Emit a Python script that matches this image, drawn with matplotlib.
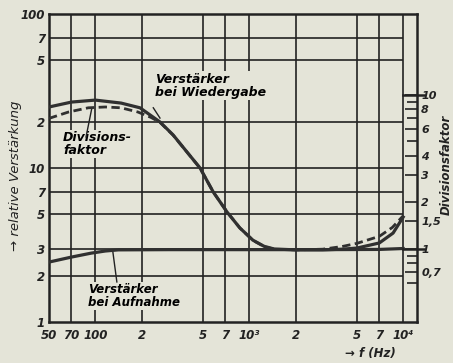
import numpy as np
import matplotlib.pyplot as plt
from matplotlib import font_manager
from matplotlib.ticker import NullLocator, FixedLocator

# --- data ---
# Verstärker bei Wiedergabe (relative Verstärkung, left axis)
wied_f = [50, 70, 100, 147, 195, 263, 320, 394, 479, 583, 717, 869, 1056,
          1250, 1450, 2000, 3000, 4000, 5000, 7000, 8600, 10000]
wied_v = [24.9, 26.8, 27.6, 26.4, 24.6, 19.9, 16.4, 12.7, 10.0, 7.0, 5.18,
          4.08, 3.4, 3.1, 2.98, 2.94, 2.94, 2.97, 3.02, 3.26, 3.78, 4.8]

# Divisionsfaktor (right axis)
div_f = [50, 67, 90, 116, 147, 189, 230, 263, 320, 394, 479, 583, 717, 869,
         1056, 1250, 1450, 2000, 3000, 4000, 5000, 7000, 8500, 10000]
div_v = [7.0, 7.7, 8.2, 8.3, 8.2, 7.7, 7.1, 6.6, 5.45, 4.23, 3.33, 2.33,
         1.73, 1.36, 1.13, 1.03, 0.99, 0.98, 0.99, 1.03, 1.08, 1.2, 1.37, 1.63]

# Verstärker bei Aufnahme (left axis)
auf_f = [50, 70, 94, 116, 141, 300, 1000, 3000, 7000, 10000]
auf_v = [2.45, 2.64, 2.8, 2.89, 2.94, 2.95, 2.95, 2.95, 2.96, 3.0]

xticks = [50, 70, 100, 200, 500, 700, 1000, 2000, 5000, 7000, 10000]
xtick_labels = ["50", "70", "100", "2", "5", "7", "10³", "2", "5", "7", "10⁴"]
yticks = [1, 2, 3, 5, 7, 10, 20, 50, 70, 100]
ytick_labels = ["1", "2", "3", "5", "7", "10", "2", "5", "7", "100"]
rticks = [0.7, 1, 1.5, 2, 3, 4, 6, 8, 10]
rtick_labels = ["0,7", "1", "1,5", "2", "3", "4", "6", "8", "10"]
rminor = [0.6, 0.8, 0.9, 5, 7, 9]
vgrid = [70, 100, 200, 500, 700, 1000, 2000, 5000, 7000, 10000]
hgrid = [2, 3, 5, 7, 10, 20, 50, 70]

PAPER = "#e4e4d8"
INK = "#222222"

# prefer a narrow face if one is installed (the original lettering is condensed)
names = {f.name for f in font_manager.fontManager.ttflist}
narrow = [n for n in ("Liberation Sans Narrow", "DejaVu Sans Condensed") if n in names]
if narrow:
    FONT = [narrow[0], "DejaVu Sans"]
    SCALE = 1.15
else:
    FONT = ["DejaVu Sans"]
    SCALE = 1.0
tfont = dict(family=FONT, style="italic", weight="bold")


def fs(size):
    return size * SCALE


fig = plt.figure(figsize=(4.53, 3.63), dpi=100, facecolor=PAPER)
ax = fig.add_axes([49 / 453, 41 / 363, 368 / 453, 308 / 363], facecolor=PAPER)
ax.set_xscale("log")
ax.set_yscale("log")
ax.set_xlim(50, 12300)
ax.set_ylim(1, 100)

# grid
for x in vgrid:
    ax.axvline(x, color=INK, lw=1.2, zorder=1)
ax.hlines(hgrid, 50, 10000, color=INK, lw=1.2, zorder=1)
for s in ax.spines.values():
    s.set_linewidth(1.8)
    s.set_color(INK)

# curves
ax.plot(wied_f, wied_v, color="#303030", lw=2.3, zorder=4)
ax.plot(auf_f, auf_v, color="#303030", lw=2.3, zorder=4)

ax2 = ax.twinx()
ax2.set_yscale("log")
ax2.set_ylim(1 / 3, 100 / 3)
ax2.plot(div_f, div_v, color="#303030", lw=2.0, ls=(0, (3, 1.6)), zorder=5)

# ticks
ax.xaxis.set_major_locator(FixedLocator(xticks))
ax.xaxis.set_minor_locator(NullLocator())
ax.set_xticklabels(xtick_labels)
ax.yaxis.set_major_locator(FixedLocator(yticks))
ax.yaxis.set_minor_locator(NullLocator())
ax.set_yticklabels(ytick_labels)
ax.tick_params(axis="x", length=0, pad=5, colors=INK)
ax.tick_params(axis="y", length=0, pad=3, colors=INK)
for lab in ax.get_xticklabels() + ax.get_yticklabels():
    lab.set(fontsize=fs(8.5), **tfont)

ax2.yaxis.set_major_locator(FixedLocator(rticks))
ax2.yaxis.set_minor_locator(FixedLocator(rminor))
ax2.set_yticklabels(rtick_labels)
ax2.tick_params(which="major", direction="in", length=9, width=1.2, pad=3, colors=INK)
ax2.tick_params(which="minor", direction="in", length=7, width=1.2, colors=INK)
for lab in ax2.get_yticklabels():
    lab.set(fontsize=fs(8), **tfont)
for s in ax2.spines.values():
    s.set_visible(False)
for v in [1, 10]:
    ax2.plot([10000, 13600], [v, v], color=INK, lw=1.8, clip_on=False, zorder=6)

# annotations
box = dict(facecolor=PAPER, edgecolor="none", pad=1)
ax.text(245, 41.5, "Verstärker\nbei Wiedergabe", ha="left", va="top", fontsize=fs(9),
        linespacing=1.0, bbox=box, zorder=3, **tfont)
ax.plot([238, 263], [24.6, 21.1], color=INK, lw=1.0, zorder=3)
ax.text(61.7, 17.4, "Divisions-\nfaktor", ha="left", va="top", fontsize=fs(9),
        linespacing=1.0, bbox=box, zorder=3, **tfont)
ax.plot([87, 95], [15.9, 24.6], color=INK, lw=1.0, zorder=3)
ax.text(89.6, 1.79, "Verstärker\nbei Aufnahme", ha="left", va="top", fontsize=fs(8.5),
        linespacing=1.0, bbox=box, zorder=3, **tfont)
ax.plot([130, 138], [2.85, 1.82], color=INK, lw=1.0, zorder=3)

fig.text(16 / 453, 1 - 176 / 363, "→ relative Verstärkung", rotation=90,
         ha="center", va="center", fontsize=fs(9.5), color=INK,
         family=FONT, style="italic")
fig.text(446 / 453, 1 - 165 / 363, "Divisionsfaktor", rotation=90,
         ha="center", va="center", fontsize=fs(8.5), color=INK, **tfont)
fig.text(370 / 453, 1 - 354 / 363, "→ f (Hz)", ha="center", va="center",
         fontsize=fs(8.5), color=INK, **tfont)

fig.savefig("out.png", dpi=100, facecolor=PAPER)
